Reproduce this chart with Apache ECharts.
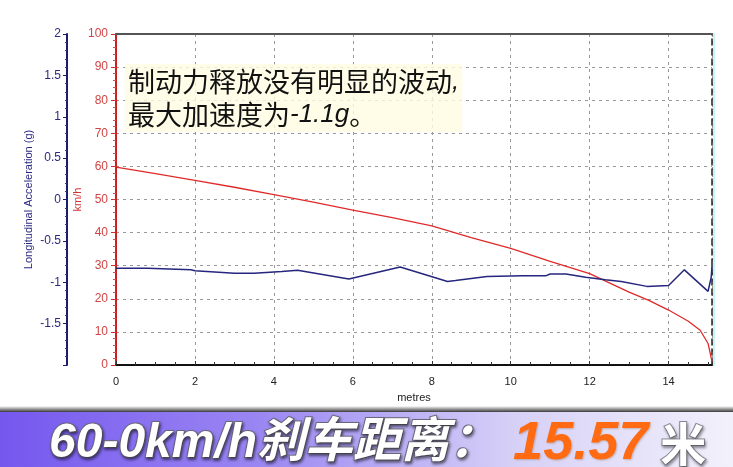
<!DOCTYPE html>
<html>
<head>
<meta charset="utf-8">
<script src="https://cdn.jsdelivr.net/npm/echarts@6/dist/echarts.min.js"></script>
<style>html,body{margin:0;padding:0;background:#fff}#c{width:733px;height:467px}</style>
</head>
<body>
<div id="c"></div>
<script>
// Speed curve (km/h) against distance (metres)
const speedDist = [0, 1, 2, 3, 4, 5, 6, 7, 8, 9, 10, 11, 12, 13, 13.5, 14, 14.5, 14.8, 15.0, 15.1];
const speedVals = [59.8, 57.8, 55.8, 53.7, 51.5, 49.2, 46.8, 44.5, 42.0, 38.5, 35.2, 31.3, 27.6, 22.0, 19.5, 16.6, 13.2, 10.5, 6.5, 1.0];
// Longitudinal acceleration (g) against distance (metres)
const accDist = [0, 0.8, 0.85, 1.9, 2.0, 3.0, 3.5, 3.55, 4.2, 4.6, 5.9, 7.2, 8.4, 8.6, 9.4, 10.3, 10.9, 11.0, 11.4, 11.9, 12.4, 12.8, 13.45, 14.0, 14.4, 15.0, 15.08, 15.1];
const accVals = [-0.83, -0.83, -0.85, -0.85, -0.86, -0.89, -0.89, -0.87, -0.87, -0.855, -0.96, -0.815, -0.99, -0.98, -0.93, -0.92, -0.92, -0.90, -0.90, -0.94, -0.97, -0.99, -1.05, -1.04, -0.85, -1.11, -0.94, -0.80];
// Text
const noteLine1 = '制动力释放没有明显的波动';
const noteLine1End = ',';
const noteLine2 = '最大加速度为';
const noteLine2Val = '-1.1g';
const noteLine2End = '。';
const bannerLabel = '60-0km/h刹车距离：';
const bannerValue = '15.57';
const bannerUnit = '米';

const chart = echarts.init(document.getElementById('c'), null, {renderer: 'canvas'});
const font = 'Liberation Sans, Arial, sans-serif';
const option = {
  animation: false,
  grid: {left: 116, right: 21, top: 34, bottom: 102},
  xAxis: [{
    type: 'value', min: 0, max: 15.1, interval: 2,
    name: 'metres', nameLocation: 'middle', nameGap: 27,
    nameTextStyle: {color: '#222', fontSize: 11, fontFamily: font},
    axisLine: {onZero: false, lineStyle: {color: '#111', width: 2}},
    axisTick: {inside: true, length: 4, lineStyle: {color: '#333'}},
    minorTick: {show: true, splitNumber: 4, length: 3, lineStyle: {color: '#333'}},
    axisLabel: {color: '#222', fontSize: 11, fontFamily: font, margin: 11, showMaxLabel: false},
    splitLine: {show: true, lineStyle: {color: '#999', type: [3, 4], width: 1}}
  }, {
    type: 'value', position: 'top', min: 0, max: 15.1,
    axisLine: {show: true, onZero: false, lineStyle: {color: '#555', width: 2}},
    axisTick: {show: false}, axisLabel: {show: false}, splitLine: {show: false}
  }],
  yAxis: [{
    type: 'value', position: 'left', min: 0, max: 100, interval: 10,
    name: 'km/h', nameLocation: 'middle', nameGap: 33, nameRotate: 90, nameMoveOverlap: false,
    nameTextStyle: {color: '#d03535', fontSize: 11, fontFamily: font},
    axisLine: {show: true, onZero: false, lineStyle: {color: '#cc1f1f', width: 2}},
    axisTick: {show: true, length: 5, lineStyle: {color: '#cc3030'}},
    minorTick: {show: true, splitNumber: 5, length: 3, lineStyle: {color: '#cc5050'}},
    axisLabel: {color: '#d04545', fontSize: 12, fontFamily: font, margin: 8},
    splitLine: {show: true, lineStyle: {color: '#999', type: [3, 4], width: 1}}
  }, {
    type: 'value', position: 'left', offset: 49, min: -2, max: 2, interval: 0.5,
    name: 'Longitudinal Acceleration (g)', nameLocation: 'middle', nameGap: 33, nameRotate: 90, nameMoveOverlap: false,
    nameTextStyle: {color: '#2a2a80', fontSize: 11, fontFamily: font},
    axisLine: {show: true, onZero: false, lineStyle: {color: '#1c1c6e', width: 2}},
    axisTick: {show: true, length: 4, lineStyle: {color: '#1c1c6e'}},
    minorTick: {show: true, splitNumber: 5, length: 2, lineStyle: {color: '#3a3a80'}},
    axisLabel: {color: '#2a2a80', fontSize: 12, fontFamily: font, margin: 6,
      formatter: v => (v === -2 ? '' : String(v))},
    splitLine: {show: false}
  }, {
    type: 'value', position: 'right', min: 0, max: 100,
    axisLine: {show: true, onZero: false, lineStyle: {color: '#222', width: 1.5, type: [6, 4]}},
    axisTick: {show: false}, axisLabel: {show: false}, splitLine: {show: false}
  }, {
    type: 'value', position: 'right', offset: 2, min: 0, max: 100,
    axisLine: {show: true, onZero: false, lineStyle: {color: '#c8f4f4', width: 2}},
    axisTick: {show: false}, axisLabel: {show: false}, splitLine: {show: false}
  }],
  series: [{
    type: 'line', name: 'speed', xAxisIndex: 0, yAxisIndex: 0,
    data: speedDist.map((d, i) => [d, speedVals[i]]),
    showSymbol: false, smooth: false,
    lineStyle: {color: '#e02a2a', width: 1.3}, z: 3
  }, {
    type: 'line', name: 'acc', xAxisIndex: 0, yAxisIndex: 1,
    data: accDist.map((d, i) => [d, accVals[i]]),
    showSymbol: false, smooth: false,
    lineStyle: {color: '#26267f', width: 1.5}, z: 4
  }],
  graphic: [{
    type: 'text', left: 125, top: 64, z: 10,
    style: {
      text: '{c|' + noteLine1 + '}{i|' + noteLine1End + '}\n{c|' + noteLine2 + '}{i|' + noteLine2Val + '}{c|' + noteLine2End + '}',
      backgroundColor: 'rgba(255,252,225,0.8)', padding: [1, 3, 1, 3],
      rich: {
        c: {font: '27px "Noto Sans CJK SC", sans-serif', fill: '#111', lineHeight: 33},
        i: {font: 'italic 26px "Liberation Sans", sans-serif', fill: '#111', lineHeight: 33}
      }
    }
  }, {
    type: 'rect', shape: {x: 0, y: 406, width: 733, height: 6}, z: 10,
    style: {fill: new echarts.graphic.LinearGradient(0, 0, 0, 1, [
      {offset: 0, color: 'rgba(255,255,255,1)'},
      {offset: 0.5, color: '#9a9a9a'},
      {offset: 1, color: '#3a3a3a'}])}
  }, {
    type: 'rect', shape: {x: 0, y: 412, width: 733, height: 55}, z: 10,
    style: {fill: new echarts.graphic.LinearGradient(0, 0, 1, 0, [
      {offset: 0, color: '#7557ee'},
      {offset: 0.35, color: '#9a86f2'},
      {offset: 0.7, color: '#d6d0f7'},
      {offset: 1, color: '#f2f1fb'}])}
  }, {
    type: 'text', left: 48, top: 417, z: 11,
    style: {
      text: '{a|' + bannerLabel + '}{b|' + bannerValue + '}{c|' + bannerUnit + '}',
      rich: {
        a: {font: 'italic bold 48px "Liberation Sans", "Noto Sans CJK SC", sans-serif', fill: '#fff',
            stroke: '#6a6a7a', lineWidth: 2, textShadowColor: 'rgba(0,0,0,0.45)', textShadowBlur: 3, textShadowOffsetX: 1, textShadowOffsetY: 2},
        b: {font: 'italic bold 54px "Liberation Sans", sans-serif', fill: '#ff6a12', padding: [0, 0, 0, 16],
            textShadowColor: 'rgba(120,60,0,0.3)', textShadowBlur: 2, textShadowOffsetX: 1, textShadowOffsetY: 1},
        c: {font: 'bold 46px "Noto Sans CJK SC", sans-serif', fill: '#fff', padding: [0, 0, 0, 12],
            stroke: '#8a8a96', lineWidth: 2, textShadowColor: 'rgba(0,0,0,0.35)', textShadowBlur: 3, textShadowOffsetX: 1, textShadowOffsetY: 2}
      }
    }
  }]
};
chart.setOption(option);
</script>
</body>
</html>
